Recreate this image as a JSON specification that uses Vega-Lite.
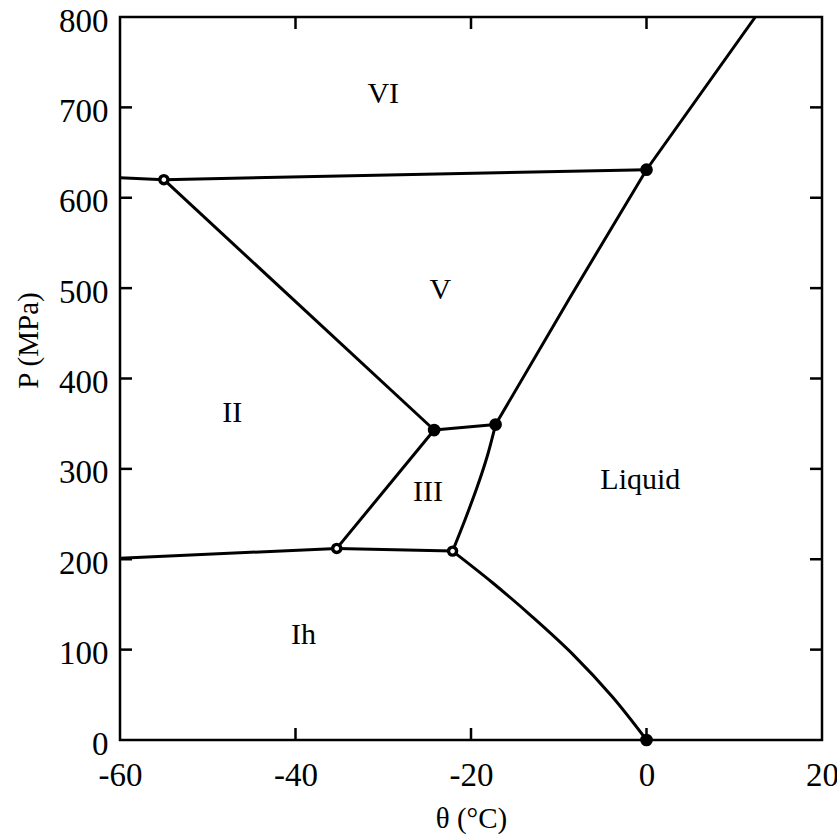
{
  "$schema": "https://vega.github.io/schema/vega-lite/v6.json",
  "autosize": {"type": "none"},
  "width": 702,
  "height": 723,
  "padding": {"left": 120, "top": 17, "right": 15, "bottom": 98},
  "background": "white",
  "config": {
    "view": {"stroke": "black", "strokeWidth": 2.5},
    "font": "Liberation Serif",
    "axis": {
      "grid": false,
      "domain": false,
      "ticks": false,
      "labelFont": "Liberation Serif",
      "labelFontSize": 33,
      "labelColor": "black",
      "labelFlush": false,
      "titleFont": "Liberation Serif",
      "titleFontSize": 29,
      "titleFontWeight": "normal",
      "titleColor": "black"
    }
  },
  "datasets": {
    "lines": [
      {"seg": "A", "o": 1, "theta": -60, "P": 622},
      {"seg": "A", "o": 2, "theta": -55, "P": 620},
      {"seg": "A", "o": 3, "theta": 0, "P": 631},
      {"seg": "B", "o": 1, "theta": -55, "P": 620},
      {"seg": "B", "o": 2, "theta": -24.2, "P": 343},
      {"seg": "C", "o": 1, "theta": -17.2, "P": 349},
      {"seg": "C", "o": 2, "theta": -8.7, "P": 490},
      {"seg": "C", "o": 3, "theta": 0, "P": 631},
      {"seg": "C", "o": 4, "theta": 12.4, "P": 800},
      {"seg": "D", "o": 1, "theta": -35.3, "P": 212},
      {"seg": "D", "o": 2, "theta": -24.2, "P": 343},
      {"seg": "E", "o": 1, "theta": -24.2, "P": 343},
      {"seg": "E", "o": 2, "theta": -17.2, "P": 349},
      {"seg": "G", "o": 1, "theta": -35.3, "P": 212},
      {"seg": "G", "o": 2, "theta": -22.1, "P": 209},
      {"seg": "H", "o": 1, "theta": -60, "P": 201},
      {"seg": "H", "o": 2, "theta": -35.3, "P": 212}
    ],
    "curves": [
      {"seg": "F", "o": 1, "theta": -22.1, "P": 209},
      {"seg": "F", "o": 2, "theta": -20.67, "P": 244},
      {"seg": "F", "o": 3, "theta": -19.33, "P": 279},
      {"seg": "F", "o": 4, "theta": -18.15, "P": 314},
      {"seg": "F", "o": 5, "theta": -17.2, "P": 349},
      {"seg": "I", "o": 1, "theta": -22.1, "P": 209},
      {"seg": "I", "o": 2, "theta": -17.54, "P": 174},
      {"seg": "I", "o": 3, "theta": -12.98, "P": 136},
      {"seg": "I", "o": 4, "theta": -8.42, "P": 95},
      {"seg": "I", "o": 5, "theta": -3.87, "P": 47.5},
      {"seg": "I", "o": 6, "theta": 0, "P": 0}
    ],
    "points": [
      {"theta": -55, "P": 620, "kind": "open"},
      {"theta": -35.3, "P": 212, "kind": "open"},
      {"theta": -22.1, "P": 209, "kind": "open"},
      {"theta": -24.2, "P": 343, "kind": "filled"},
      {"theta": -17.2, "P": 349, "kind": "filled"},
      {"theta": 0, "P": 631, "kind": "filled"},
      {"theta": 0, "P": 0, "kind": "filled"}
    ],
    "labels": [
      {"theta": -30, "P": 715, "label": "VI"},
      {"theta": -23.5, "P": 498, "label": "V"},
      {"theta": -47.2, "P": 362, "label": "II"},
      {"theta": -24.9, "P": 274, "label": "III"},
      {"theta": -0.7, "P": 288, "label": "Liquid"},
      {"theta": -39.1, "P": 116, "label": "Ih"}
    ],
    "yticks": [
      {"P": 100}, {"P": 200}, {"P": 300}, {"P": 400}, {"P": 500}, {"P": 600}, {"P": 700}
    ],
    "xticks": [
      {"theta": -40}, {"theta": -20}, {"theta": 0}
    ]
  },
  "layer": [
    {
      "data": {"name": "lines"},
      "mark": {"type": "line", "color": "black", "strokeWidth": 3, "clip": true},
      "encoding": {
        "x": {"field": "theta", "type": "quantitative", "scale": {"domain": [-60, 20], "nice": false},
          "axis": {"orient": "bottom", "tickCount": 4, "labelPadding": 19, "labelExpr": "'' + datum.value", "title": "θ (°C)", "titleY": 78, "titleBaseline": "middle"}},
        "y": {"field": "P", "type": "quantitative", "scale": {"domain": [0, 800], "nice": false},
          "axis": {"orient": "left", "tickCount": 8, "labelPadding": 12, "labelOffset": 4, "title": "P (MPa)", "titleX": -92, "titleY": 323, "titleBaseline": "middle"}},
        "detail": {"field": "seg"},
        "order": {"field": "o", "type": "quantitative"}
      }
    },
    {
      "data": {"name": "curves"},
      "mark": {"type": "line", "color": "black", "strokeWidth": 3, "interpolate": "catmull-rom"},
      "encoding": {
        "x": {"field": "theta", "type": "quantitative"},
        "y": {"field": "P", "type": "quantitative"},
        "detail": {"field": "seg"},
        "order": {"field": "o", "type": "quantitative"}
      }
    },
    {
      "data": {"name": "yticks"},
      "mark": {"type": "rule", "color": "black", "strokeWidth": 2.5, "x2Offset": 12},
      "encoding": {
        "x": {"datum": -60, "type": "quantitative"},
        "x2": {"datum": -60},
        "y": {"field": "P", "type": "quantitative"}
      }
    },
    {
      "data": {"name": "yticks"},
      "mark": {"type": "rule", "color": "black", "strokeWidth": 2.5, "x2Offset": -12},
      "encoding": {
        "x": {"datum": 20, "type": "quantitative"},
        "x2": {"datum": 20},
        "y": {"field": "P", "type": "quantitative"}
      }
    },
    {
      "data": {"name": "xticks"},
      "mark": {"type": "rule", "color": "black", "strokeWidth": 2.5, "y2Offset": -12},
      "encoding": {
        "x": {"field": "theta", "type": "quantitative"},
        "y": {"datum": 0, "type": "quantitative"},
        "y2": {"datum": 0}
      }
    },
    {
      "data": {"name": "xticks"},
      "mark": {"type": "rule", "color": "black", "strokeWidth": 2.5, "y2Offset": 12},
      "encoding": {
        "x": {"field": "theta", "type": "quantitative"},
        "y": {"datum": 800, "type": "quantitative"},
        "y2": {"datum": 800}
      }
    },
    {
      "data": {"name": "points"},
      "mark": {"type": "point", "shape": "circle", "filled": false, "stroke": "black", "opacity": 1},
      "encoding": {
        "x": {"field": "theta", "type": "quantitative"},
        "y": {"field": "P", "type": "quantitative"},
        "fill": {"field": "kind", "type": "nominal", "scale": {"domain": ["open", "filled"], "range": ["white", "black"]}, "legend": null},
        "size": {"field": "kind", "type": "nominal", "scale": {"domain": ["open", "filled"], "range": [65, 115]}, "legend": null},
        "strokeWidth": {"field": "kind", "type": "nominal", "scale": {"domain": ["open", "filled"], "range": [3.4, 2]}, "legend": null}
      }
    },
    {
      "data": {"name": "labels"},
      "mark": {"type": "text", "font": "Liberation Serif", "fontSize": 30, "color": "black", "baseline": "middle", "align": "center"},
      "encoding": {
        "x": {"field": "theta", "type": "quantitative"},
        "y": {"field": "P", "type": "quantitative"},
        "text": {"field": "label"}
      }
    }
  ]
}
